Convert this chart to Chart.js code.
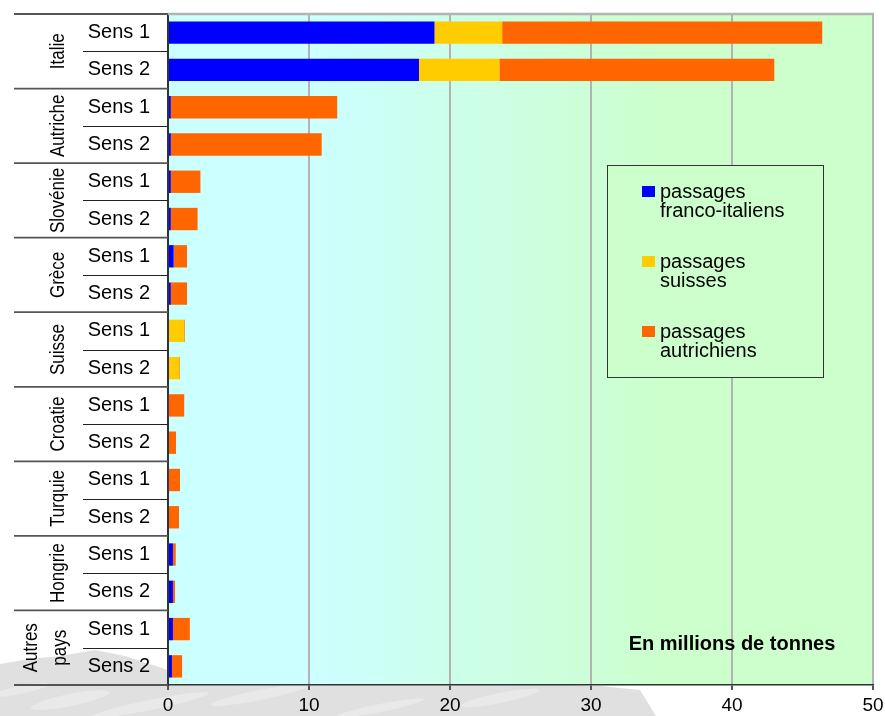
<!DOCTYPE html>
<html lang="fr">
<head>
<meta charset="utf-8">
<title>Trafic de marchandises par pays</title>
<script src="https://cdn.jsdelivr.net/npm/chart.js@4/dist/chart.umd.min.js"></script>
<style>
  html, body { margin: 0; padding: 0; background: #fff; overflow: hidden; }
  #wrap { width: 885px; height: 716px; }
</style>
</head>
<body>
<div id="wrap"><canvas id="graphique"></canvas></div>
<script>
// ── Données ─────────────────────────────────────────────────
const pays = ['Italie', 'Autriche', 'Slovénie', 'Grèce', 'Suisse', 'Croatie', 'Turquie', 'Hongrie', 'Autres pays'];
const sens = ['Sens 1', 'Sens 2'];
const categories = pays.flatMap(() => sens);

const passagesFrancoItaliens = [18.9, 17.8, 0.2, 0.2, 0.2, 0.2, 0.4, 0.2, 0, 0, 0.05, 0, 0.05, 0, 0.35, 0.35, 0.35, 0.28];
const passagesSuisses        = [4.8, 5.7, 0, 0, 0, 0, 0, 0, 1.15, 0.8, 0, 0, 0, 0, 0, 0, 0, 0];
const passagesAutrichiens    = [22.7, 19.5, 11.8, 10.7, 2.1, 1.9, 0.95, 1.15, 0.05, 0.05, 1.1, 0.57, 0.8, 0.78, 0.2, 0.15, 1.2, 0.72];

const xTicks = [0, 10, 20, 30, 40, 50];
const unite = 'En millions de tonnes';

const FONT = "'Liberation Sans', Arial, sans-serif";

// ── Fond : dégradé + relief gris ────────────────────────────
const fondPlugin = {
    id: 'fond',
    beforeDraw(chart) {
        const { ctx, chartArea: a, width, height } = chart;
        ctx.save();
        ctx.fillStyle = '#fff';
        ctx.fillRect(0, 0, width, height);

        // montagnes estompées en bas à gauche
        ctx.fillStyle = '#e0e0e0';
        ctx.beginPath();
        ctx.moveTo(0, height);
        ctx.lineTo(0, 664);
        ctx.lineTo(30, 659);
        ctx.lineTo(60, 656);
        ctx.lineTo(95, 650);
        ctx.lineTo(125, 656);
        ctx.lineTo(168, 670);
        ctx.lineTo(600, 686);
        ctx.lineTo(640, 690);
        ctx.lineTo(656, height);
        ctx.closePath();
        ctx.fill();
        ctx.fillStyle = '#e9e9e9';
        [[70, 700, 40, 6], [150, 705, 60, 5], [260, 695, 50, 5], [380, 708, 45, 4], [500, 698, 40, 5], [20, 690, 30, 4]]
            .forEach(([x, y0, w, h]) => {
                ctx.beginPath();
                ctx.ellipse(x, y0, w, h, -0.2, 0, Math.PI * 2);
                ctx.fill();
            });

        const g = ctx.createLinearGradient(a.left, 0, a.right, 0);
        g.addColorStop(0, '#ccffff');
        g.addColorStop(0.2, '#ccffff');
        g.addColorStop(0.7, '#ccffcc');
        g.addColorStop(1, '#ccffcc');
        ctx.fillStyle = g;
        ctx.fillRect(a.left, a.top, a.right - a.left, a.bottom - a.top);
        ctx.restore();
    }
};

// ── Groupes de pays, légende, unité ─────────────────────────
const habillagePlugin = {
    id: 'habillage',
    afterDraw(chart) {
        const { ctx, chartArea: a } = chart;
        const y = chart.scales.y;
        ctx.save();

        // cadre haut gris
        ctx.strokeStyle = '#b3b3b3';
        ctx.lineWidth = 2.5;
        ctx.beginPath();
        ctx.moveTo(a.left, a.top);
        ctx.lineTo(a.right + 1, a.top);
        ctx.stroke();

        const mid = (i) => (y.getPixelForValue(i) + y.getPixelForValue(i + 1)) / 2;

        // séparations Sens 1 / Sens 2
        ctx.strokeStyle = '#222';
        ctx.lineWidth = 1;
        pays.forEach((p, k) => {
            const yy = Math.round(mid(2 * k)) + 0.5;
            ctx.beginPath();
            ctx.moveTo(83, yy);
            ctx.lineTo(a.left, yy);
            ctx.stroke();
        });

        // séparations entre pays
        ctx.strokeStyle = '#555';
        ctx.lineWidth = 1.8;
        for (let k = 0; k <= pays.length; k++) {
            let yy;
            if (k === 0) yy = a.top;
            else if (k === pays.length) yy = a.bottom;
            else yy = mid(2 * k - 1);
            ctx.beginPath();
            ctx.moveTo(14, yy);
            ctx.lineTo(a.left, yy);
            ctx.stroke();
        }

        // noms des pays (verticaux, un peu élargis comme l'original)
        ctx.fillStyle = '#000';
        ctx.font = `17px ${FONT}`;
        ctx.textAlign = 'center';
        ctx.textBaseline = 'middle';
        pays.forEach((p, k) => {
            const cy = (y.getPixelForValue(2 * k) + y.getPixelForValue(2 * k + 1)) / 2;
            const lignes = p.split(' ');
            const xs = lignes.length === 1 ? [58] : [31, 60];
            lignes.forEach((l, j) => {
                ctx.save();
                ctx.translate(xs[j], cy);
                ctx.rotate(-Math.PI / 2);
                ctx.scale(1, 1.22);
                ctx.fillText(l, 0, 0);
                ctx.restore();
            });
        });

        // légende
        const lx = 607, ly = 165, lw = 216, lh = 212;
        ctx.fillStyle = '#ccffcc';
        ctx.fillRect(lx, ly, lw, lh);
        ctx.strokeStyle = '#333';
        ctx.lineWidth = 1;
        ctx.strokeRect(lx + 0.5, ly + 0.5, lw, lh);

        ctx.font = `20px ${FONT}`;
        ctx.textAlign = 'left';
        chart.data.datasets.forEach((ds, i) => {
            const top = 186 + i * 70;
            ctx.fillStyle = ds.backgroundColor;
            ctx.fillRect(642, top, 13, 11);
            ctx.fillStyle = '#000';
            const mots = ds.label.split(' ');
            ctx.fillText(mots[0], 660, top + 6);
            ctx.fillText(mots.slice(1).join(' '), 660, top + 25);
        });

        // unité
        ctx.font = `bold 20px ${FONT}`;
        ctx.textAlign = 'center';
        ctx.fillText(unite, 732, 644);

        ctx.restore();
    }
};

new Chart(document.getElementById('graphique'), {
    type: 'bar',
    data: {
        labels: categories,
        datasets: [
            { label: 'passages franco-italiens', data: passagesFrancoItaliens, backgroundColor: '#0000ff' },
            { label: 'passages suisses', data: passagesSuisses, backgroundColor: '#ffcc00' },
            { label: 'passages autrichiens', data: passagesAutrichiens, backgroundColor: '#ff6600' }
        ]
    },
    options: {
        indexAxis: 'y',
        responsive: true,
        maintainAspectRatio: false,
        animation: false,
        devicePixelRatio: 1,
        layout: { padding: { top: 14, right: 12, left: 0, bottom: 0 } },
        datasets: { bar: { barPercentage: 0.6, categoryPercentage: 1, borderWidth: 0 } },
        plugins: {
            legend: { display: false },
            tooltip: { enabled: false }
        },
        scales: {
            x: {
                stacked: true,
                min: 0,
                max: 50,
                afterBuildTicks: (s) => { s.ticks = xTicks.map(v => ({ value: v })); },
                afterFit: (s) => { s.height = 31; s.paddingLeft = 0; s.paddingRight = 0; },
                grid: {
                    color: (c) => c.tick && c.tick.value === 0 ? '#333' : '#b3b3b3',
                    lineWidth: 2,
                    tickLength: 5,
                    tickColor: '#555'
                },
                border: { display: true, color: '#333', width: 1.5 },
                ticks: { color: '#000', font: { family: FONT, size: 19 }, padding: 4, maxRotation: 0 }
            },
            y: {
                stacked: true,
                afterFit: (s) => { s.width = 168; s.paddingTop = 0; s.paddingBottom = 0; },
                grid: { display: false },
                border: { display: true, color: '#333', width: 2 },
                ticks: { color: '#000', font: { family: FONT, size: 20 }, padding: 10 }
            }
        }
    },
    plugins: [fondPlugin, habillagePlugin]
});
</script>
</body>
</html>
